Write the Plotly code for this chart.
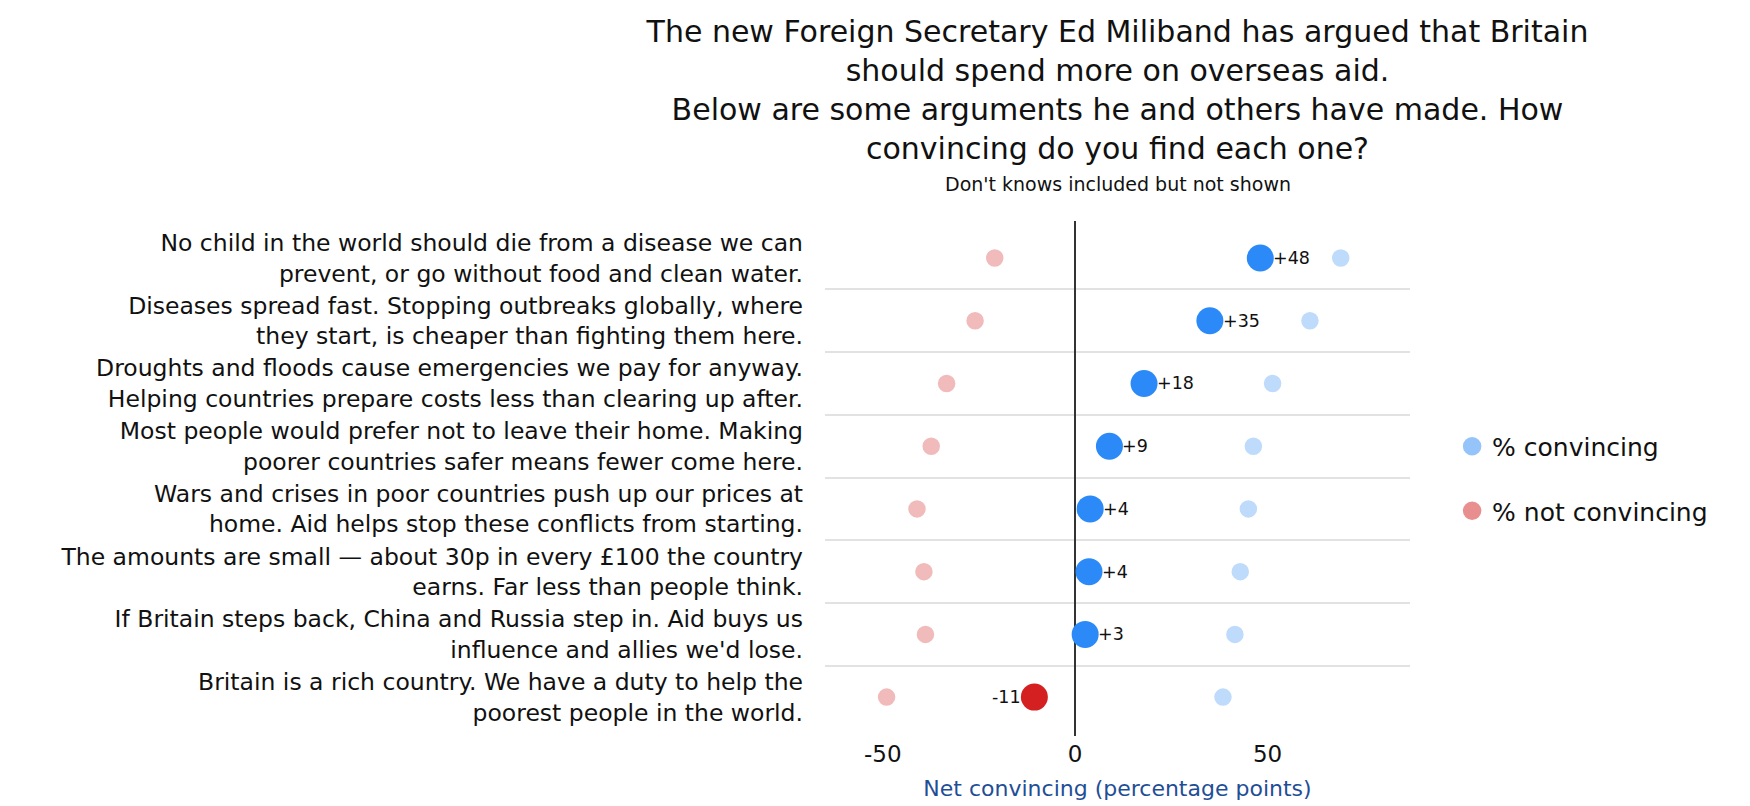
import plotly.graph_objects as go

# Arguments, top to bottom
arguments = [
    "No child in the world should die from a disease we can<br>prevent, or go without food and clean water.",
    "Diseases spread fast. Stopping outbreaks globally, where<br>they start, is cheaper than fighting them here.",
    "Droughts and floods cause emergencies we pay for anyway.<br>Helping countries prepare costs less than clearing up after.",
    "Most people would prefer not to leave their home. Making<br>poorer countries safer means fewer come here.",
    "Wars and crises in poor countries push up our prices at<br>home. Aid helps stop these conflicts from starting.",
    "The amounts are small \u2014 about 30p in every \u00a3100 the country<br>earns. Far less than people think.",
    "If Britain steps back, China and Russia step in. Aid buys us<br>influence and allies we'd lose.",
    "Britain is a rich country. We have a duty to help the<br>poorest people in the world.",
]

# % convincing / % not convincing
convincing = [69.0, 61.0, 51.3, 46.3, 45.0, 42.9, 41.5, 38.4]
not_convincing = [20.9, 26.0, 33.4, 37.4, 41.1, 39.3, 38.9, 49.0]

x_ticks = [-50, 0, 50]
x_tick_text = ["-50", "0", "50"]

BLUE = "#2b8af7"
RED = "#d42020"
FONT = "DejaVu Sans"

rows = list(range(len(arguments)))
net = [c - n for c, n in zip(convincing, not_convincing)]
net_text = [("+%d" % round(v)) if v > 0 else ("%d" % round(v)) for v in net]
net_colors = [BLUE if v > 0 else RED for v in net]

fig = go.Figure()

# faint dots for the two shares
fig.add_trace(go.Scatter(
    x=[-v for v in not_convincing], y=rows, mode="markers",
    marker=dict(size=16, color=RED, opacity=0.3, line=dict(color=RED, width=1.5)),
    showlegend=False, hoverinfo="skip"))
fig.add_trace(go.Scatter(
    x=convincing, y=rows, mode="markers",
    marker=dict(size=16, color=BLUE, opacity=0.3, line=dict(color=BLUE, width=1.5)),
    showlegend=False, hoverinfo="skip"))

# net score
fig.add_trace(go.Scatter(
    x=net, y=rows, mode="markers",
    marker=dict(size=27, color=net_colors),
    showlegend=False, hoverinfo="skip"))

# net labels hugging the dots
for v, r, t in zip(net, rows, net_text):
    fig.add_annotation(
        x=v, y=r, text=t, showarrow=False,
        xanchor="left" if v > 0 else "right",
        xshift=11 if v > 0 else -11,
        font=dict(family=FONT, size=17.5, color="#111111"))

# legend entries
fig.add_trace(go.Scatter(
    x=[None], y=[None], mode="markers", name="% convincing", legendgroup="a",
    marker=dict(size=16, color=BLUE, opacity=0.5, line=dict(color=BLUE, width=2.5))))
fig.add_trace(go.Scatter(
    x=[None], y=[None], mode="markers", name="% not convincing", legendgroup="b",
    marker=dict(size=16, color=RED, opacity=0.5, line=dict(color=RED, width=2.5))))

fig.add_annotation(
    text="Don't knows included but not shown", xref="paper", yref="paper",
    x=0.5, y=1.072, xanchor="center", yanchor="middle", showarrow=False,
    font=dict(family=FONT, size=19, color="#111111"))

fig.update_layout(
    width=1750, height=806,
    margin=dict(l=817, r=348, t=213, b=78),
    paper_bgcolor="white", plot_bgcolor="white",
    font=dict(family=FONT, color="#111111"),
    title=dict(
        text="The new Foreign Secretary Ed Miliband has argued that Britain<br>"
             "should spend more on overseas aid.<br>"
             "Below are some arguments he and others have made. How<br>"
             "convincing do you find each one?",
        x=0.5, xref="paper", xanchor="center",
        y=0.958, yref="container", yanchor="top",
        font=dict(family=FONT, size=30, color="#111111")),
    legend=dict(
        x=1.072, xanchor="left", y=0.50, yanchor="middle",
        font=dict(family=FONT, size=25, color="#111111"),
        tracegroupgap=29, traceorder="grouped"),
)

fig.update_xaxes(
    range=[-65, 87], tickvals=x_ticks, ticktext=x_tick_text, showgrid=False,
    zeroline=True, zerolinecolor="#333333", zerolinewidth=2,
    ticklabelstandoff=2,
    tickfont=dict(family=FONT, size=23, color="#111111"),
    title=dict(text="Net convincing (percentage points)", standoff=14,
               font=dict(family=FONT, size=22, color="#1f4e96")))

fig.update_yaxes(
    range=[7.62, -0.59], tickvals=rows, ticktext=arguments,
    showgrid=False, zeroline=False, ticklabelstandoff=21,
    tickfont=dict(family=FONT, size=23.5, color="#111111"),
    minor=dict(tickvals=[r + 0.5 for r in rows[:-1]], showgrid=True,
               gridcolor="#e2e2e2", gridwidth=1.5))

fig.write_html("out.html")
